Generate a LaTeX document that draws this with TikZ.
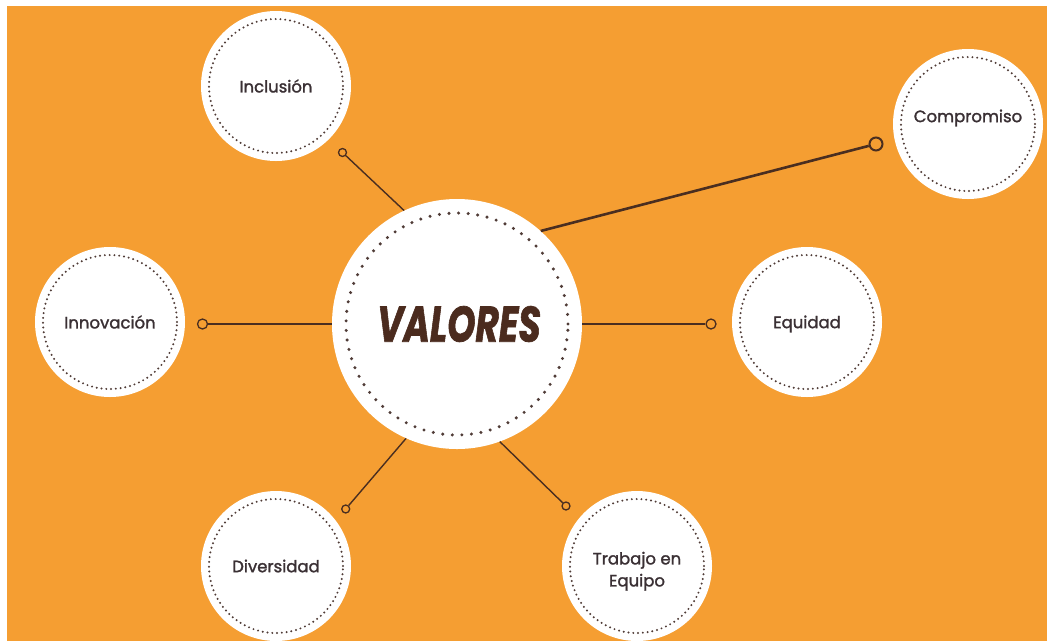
\documentclass[tikz,border=0pt]{standalone}
\usepackage{fontspec}
\setmainfont{Poppins}
\newfontfamily\lblfont{Poppins}[FakeBold=1.6]
\newfontfamily\valfont{Poppins}[FakeBold=1.5]
\definecolor{bgorange}{RGB}{245,158,50}
\definecolor{linebrown}{RGB}{74,46,32}
\definecolor{txtgray}{RGB}{58,48,52}
\definecolor{valbrown}{RGB}{75,43,30}
\definecolor{dotbrown}{RGB}{80,60,55}
\begin{document}
\begin{tikzpicture}[x=1pt,y=-1pt,
  bubble/.style={circle,fill=white,minimum size=150pt,inner sep=0pt,align=center,
    text=txtgray,font=\lblfont\fontsize{16.5}{22}\selectfont},
  dotring/.style={draw=dotbrown,line width=2.2pt,line cap=round,dash pattern=on 0pt off 4.8pt},
  knob/.style={circle,draw=linebrown,line width=1.3pt,fill=none,minimum size=8pt,inner sep=0pt},
  bigknob/.style={circle,draw=linebrown,line width=2pt,fill=none,minimum size=13pt,inner sep=0pt},
  link/.style={draw=linebrown,line width=1.4pt},
  biglink/.style={draw=linebrown,line width=2.6pt}]
\useasboundingbox (0,0) rectangle (1047,641);
\fill[white] (0,0) rectangle (1047,641);
\fill[bgorange] (7,6) rectangle (1047,641);

% hub
\node[circle,fill=white,minimum size=250pt,inner sep=0pt] (hub) at (457,324) {};
\draw[dotring,line width=3.4pt,dash pattern=on 0pt off 9.6pt] (hub.center) circle[radius=111pt];
\node[text=valbrown] at (459,324) {\scalebox{0.72}[1]{\valfont\bfseries\itshape\fontsize{50}{50}\selectfont VALORES}};

% satellites
\node[bubble] (inc) at (276,86) {Inclusión};
\node[bubble] (com) at (968,124) {\raisebox{6pt}[\height][\depth]{Compromiso}};
\node[bubble] (inn) at (110,322) {Innovación};
\node[bubble] (equ) at (807,322) {\raisebox{-2pt}[\height][\depth]{Equidad}};
\node[bubble] (div) at (276,566) {Diversidad};
\node[bubble] (tra) at (637,566) {\raisebox{-5pt}[\height][\depth]{\begin{tabular}{@{}c@{}}Trabajo en\\Equipo\end{tabular}}};
\foreach \n in {inc,com,inn,equ,div,tra}
  \draw[dotring] (\n.center) circle[radius=67pt];

% knobs
\node[knob] (kinc) at (342.5,152.5) {};
\node[bigknob] (kcom) at (876,144) {};
\node[knob,minimum size=10pt] (kinn) at (202.5,324) {};
\node[knob,minimum size=10pt] (kequ) at (711,324) {};
\node[knob] (kdiv) at (345.7,509) {};
\node[knob] (ktra) at (566,506) {};

% connectors
\draw[link] (hub.115.5) -- (kinc);
\draw[biglink] (hub.48.6) -- (kcom);
\draw[link] (hub.180) -- (kinn);
\draw[link] (hub.0) -- (kequ);
\draw[link] (hub.246) -- (kdiv);
\draw[link] (hub.290.5) -- (ktra);
\end{tikzpicture}
\end{document}
